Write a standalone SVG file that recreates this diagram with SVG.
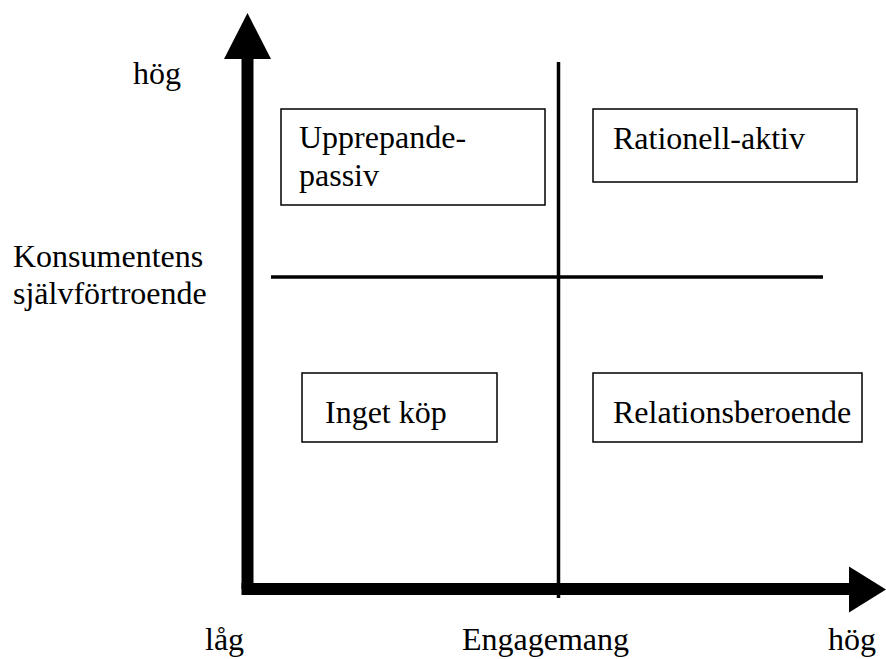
<svg xmlns="http://www.w3.org/2000/svg" width="886" height="659" viewBox="0 0 886 659" font-family="Liberation Serif, Times New Roman, DejaVu Serif, serif" font-size="32">
<style>
.box{fill:#fff;stroke:#000;stroke-width:1.5}
.ln{stroke:#000;stroke-width:3.5;fill:none}
</style>
<rect width="886" height="659" fill="#fff"/>
<g id="axes">
<rect x="241.5" y="58" width="12" height="531"/>
<polygon points="224,59 271,59 247.5,13"/>
<rect x="241.5" y="583" width="608" height="12"/>
<polygon points="849,566.5 849,612.5 886,589.5"/>
</g>
<g id="connectors">
<line class="ln" x1="558.5" y1="62" x2="558.5" y2="598"/>
<line class="ln" x1="271" y1="277" x2="823" y2="277"/>
</g>
<g id="labels">
<text x="133" y="84">hög</text>
<text x="13" y="267">Konsumentens</text>
<text x="13" y="304">självförtroende</text>
<text x="205" y="650">låg</text>
<text x="462" y="650">Engagemang</text>
<text x="828" y="650">hög</text>
</g>
<g id="upprepande">
<rect class="box" x="281" y="109" width="264" height="96"/>
<text x="299" y="148">Upprepande-</text>
<text x="299" y="186">passiv</text>
</g>
<g id="rationell">
<rect class="box" x="593" y="109" width="264" height="73"/>
<text x="613" y="149">Rationell-aktiv</text>
</g>
<g id="inget">
<rect class="box" x="302" y="373" width="195" height="69"/>
<text x="325" y="423">Inget köp</text>
</g>
<g id="relation">
<rect class="box" x="593" y="373" width="269" height="69"/>
<text x="613" y="423">Relationsberoende</text>
</g>
</svg>
